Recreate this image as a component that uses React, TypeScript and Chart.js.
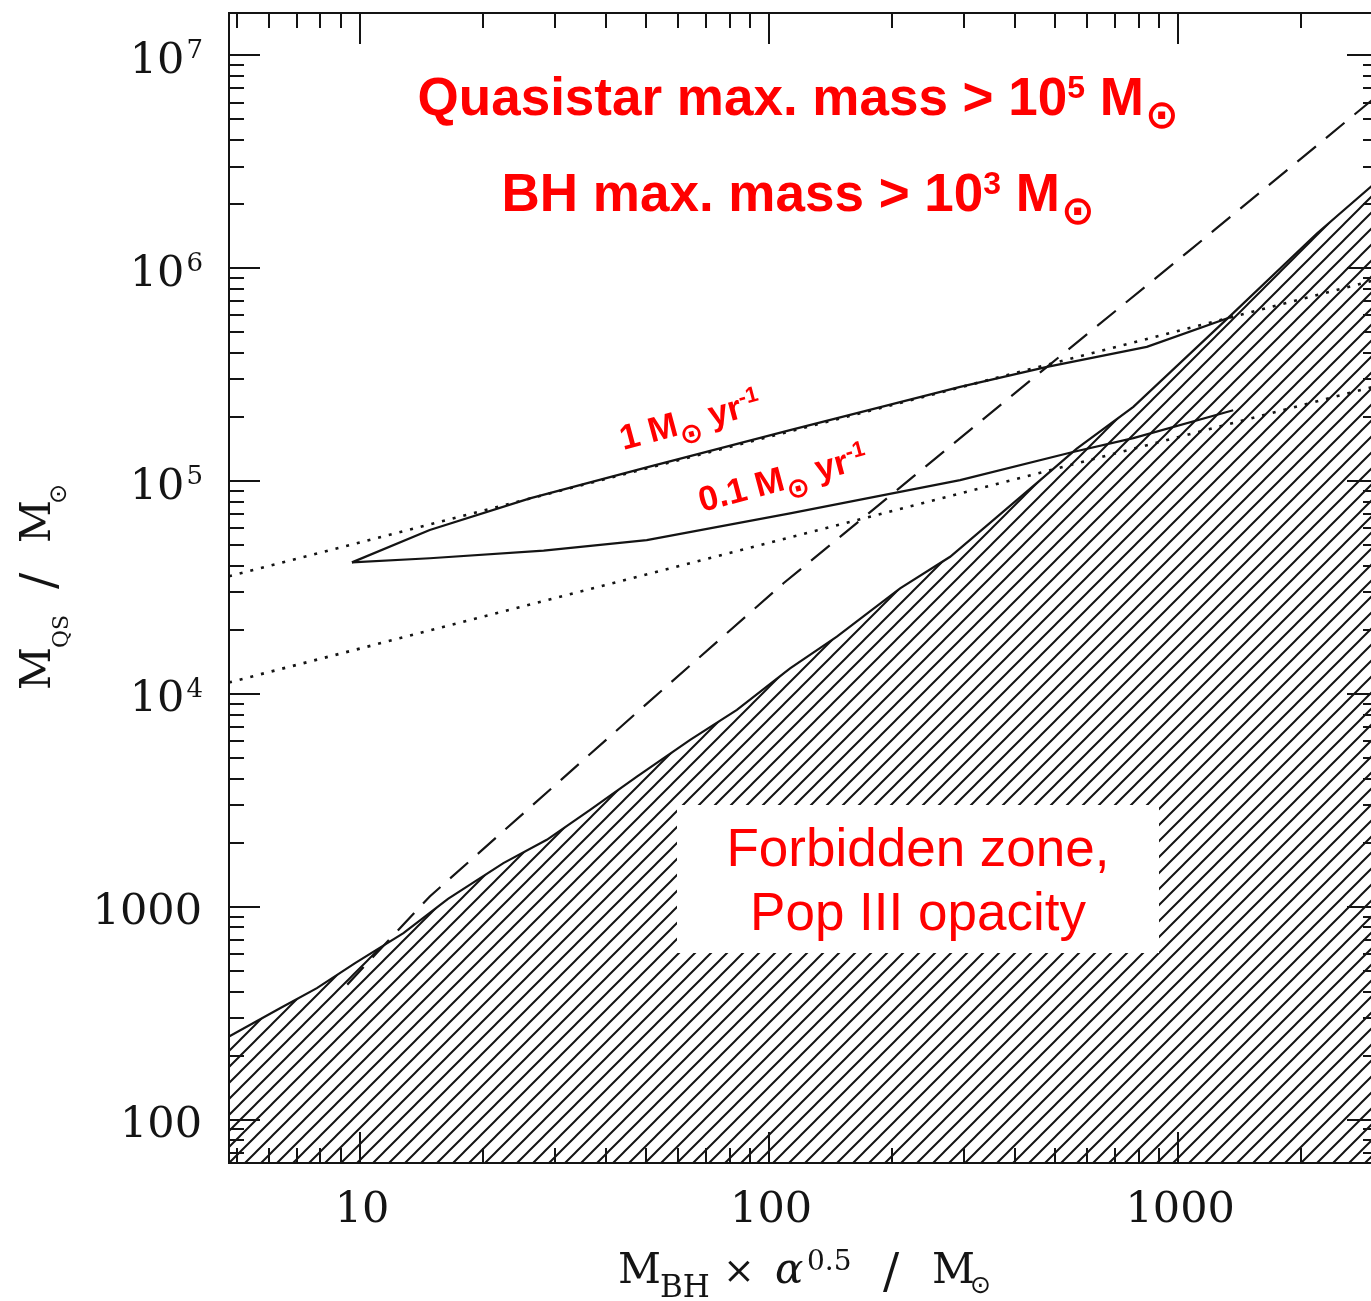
import React, { useEffect, useRef } from "react";
import { Chart, registerables } from "chart.js";

Chart.register(...registerables);

// ---------- data ----------
const xRange = [4.78, 3080];
const yRange = [62.6, 1.58e7];

// boundary of the forbidden (hatched) zone
const forbiddenX = [4.78, 6.37, 7.84, 9.72, 12.76, 16.4, 22.4, 28.6, 36.5, 47.5, 64.1, 83.4, 112.5, 146.4, 209, 277, 460, 565, 777, 1363, 2183, 3080];
const forbiddenY = [246, 334, 415, 544, 752, 1090, 1604, 2064, 2853, 4090, 6080, 8410, 13200, 18600, 31300, 44100, 101000, 142000, 223000, 615000, 1455000, 2580000];

// dashed curve
const dashedX = [9.3, 14.8, 25.1, 49.3, 108.4, 225, 478, 1069, 3080];
const dashedY = [431, 1118, 2754, 8720, 33100, 104800, 344000, 1215000, 6500000];

// dotted power laws
const dotHighX = [4.78, 3080];
const dotHighY = [35700, 886000];
const dotLowX = [4.78, 3080];
const dotLowY = [11330, 281000];

// 1 Msun/yr track
const rate1X = [9.55, 14.8, 26.0, 50.2, 112.5, 293, 478, 838, 1363];
const rate1Y = [41500, 58900, 82900, 116000, 173500, 277000, 344000, 427000, 595000];

// 0.1 Msun/yr track
const rate01X = [9.55, 14.8, 28.1, 50.2, 112.5, 293, 553, 777, 1363];
const rate01Y = [41500, 43400, 47100, 52800, 70500, 101000, 137000, 159000, 215000];

// ticks
const xMajorTicks = [10, 100, 1000];
const xTickLabels = ["10", "100", "1000"];
const yMajorTicks = [100, 1000, 1e4, 1e5, 1e6, 1e7];
const yTickBase = ["100", "1000", "10", "10", "10", "10"];
const yTickExp = ["", "", "4", "5", "6", "7"];
const minorSteps = [2, 3, 4, 5, 6, 7, 8, 9];

// texts
const headline1 = ["Quasistar max. mass > 10", "5", " M", "\u2299"];
const headline2 = ["BH max. mass > 10", "3", " M", "\u2299"];
const rateLabel1 = ["1 M", "\u2299", " yr", "-1"];
const rateLabel01 = ["0.1 M", "\u2299", " yr", "-1"];
const rateLabel1At = { x: 44.0, y: 139800 };
const rateLabel01At = { x: 68.5, y: 71500 };
const boxLines = ["Forbidden zone,", "Pop III opacity"];
const xTitle = ["M", "BH", "\u00d7", "\u03b1", "0.5", "/", "M", "\u2299"];
const yTitle = ["M", "QS", "/", "M", "\u2299"];

const zip = (xs: number[], ys: number[]) => xs.map((x, i) => ({ x, y: ys[i] }));

const SANS = "'Liberation Sans', Arial, sans-serif";
const SERIF = "'DejaVu Serif', serif";
const SYM = "'DejaVu Sans', sans-serif";
const RED = "#ff0000";
const INK = "#141414";

type Run = { t: string; font: string; dy?: number; dx?: number };

function runsWidth(ctx: CanvasRenderingContext2D, runs: Run[]) {
  let w = 0;
  for (const r of runs) {
    ctx.font = r.font;
    w += ctx.measureText(r.t).width + (r.dx || 0);
  }
  return w;
}

function drawRuns(ctx: CanvasRenderingContext2D, runs: Run[], x: number, y: number) {
  let cx = x;
  ctx.textAlign = "left";
  ctx.textBaseline = "alphabetic";
  for (const r of runs) {
    ctx.font = r.font;
    cx += r.dx || 0;
    ctx.fillText(r.t, cx, y + (r.dy || 0));
    cx += ctx.measureText(r.t).width;
  }
}

const overlayPlugin = {
  id: "overlay",
  afterDraw(chart: any) {
    const ctx: CanvasRenderingContext2D = chart.ctx;
    const xs = chart.scales.x;
    const ys = chart.scales.y;
    const { left, right, top, bottom } = chart.chartArea;
    ctx.save();

    // white box with label
    ctx.fillStyle = "#ffffff";
    ctx.fillRect(677, 805, 482, 148);
    ctx.fillStyle = RED;
    ctx.font = `53px ${SANS}`;
    ctx.textAlign = "center";
    ctx.textBaseline = "alphabetic";
    ctx.fillText(boxLines[0], 918, 866);
    ctx.fillText(boxLines[1], 918, 930);

    // headlines
    const head = (parts: string[], baseline: number) => {
      const runs: Run[] = [
        { t: parts[0], font: `bold 53px ${SANS}` },
        { t: parts[1], font: `bold 32px ${SANS}`, dy: -17 },
        { t: parts[2], font: `bold 53px ${SANS}` },
        { t: parts[3], font: `bold 40px ${SYM}`, dy: 13, dx: 1 },
      ];
      const w = runsWidth(ctx, runs);
      ctx.fillStyle = RED;
      drawRuns(ctx, runs, 798 - w / 2, baseline);
    };
    head(headline1, 115);
    head(headline2, 211);

    // rotated rate labels
    const rate = (parts: string[], at: { x: number; y: number }, angle: number) => {
      const px = xs.getPixelForValue(at.x);
      const py = ys.getPixelForValue(at.y);
      ctx.save();
      ctx.translate(px, py);
      ctx.rotate((angle * Math.PI) / 180);
      ctx.fillStyle = RED;
      drawRuns(ctx, [
        { t: parts[0], font: `bold 35px ${SANS}` },
        { t: parts[1], font: `bold 28px ${SYM}`, dy: 11 },
        { t: parts[2], font: `bold 35px ${SANS}` },
        { t: parts[3], font: `bold 22px ${SANS}`, dy: -13 },
      ], 0, 0);
      ctx.restore();
    };
    rate(rateLabel1, rateLabel1At, -15);
    rate(rateLabel01, rateLabel01At, -15);

    // frame
    ctx.strokeStyle = INK;
    ctx.lineWidth = 2;
    ctx.strokeRect(left, top, right - left, bottom - top);

    // ticks
    ctx.beginPath();
    const xMin = xRange[0], xMax = xRange[1], yMin = yRange[0], yMax = yRange[1];
    const xDecades = [1, ...xMajorTicks];
    for (const d of xDecades) {
      for (const m of [1, ...minorSteps]) {
        const v = d * m;
        if (m === 1 && d === 1) continue;
        if (v < xMin || v > xMax) continue;
        const len = m === 1 ? 31 : 15;
        const p = Math.round(xs.getPixelForValue(v));
        ctx.moveTo(p, bottom);
        ctx.lineTo(p, bottom - len);
        ctx.moveTo(p, top);
        ctx.lineTo(p, top + len);
      }
    }
    const yDecades = [10, ...yMajorTicks];
    for (const d of yDecades) {
      for (const m of [1, ...minorSteps]) {
        const v = d * m;
        if (m === 1 && d === 10) continue;
        if (v < yMin || v > yMax) continue;
        const len = m === 1 ? 31 : 15;
        const p = Math.round(ys.getPixelForValue(v));
        ctx.moveTo(left, p);
        ctx.lineTo(left + len, p);
        ctx.moveTo(right, p);
        ctx.lineTo(right - len, p);
      }
    }
    ctx.stroke();

    // tick labels
    ctx.fillStyle = INK;
    ctx.textBaseline = "alphabetic";
    xMajorTicks.forEach((v, i) => {
      const p = xs.getPixelForValue(v);
      ctx.font = `43px ${SERIF}`;
      ctx.textAlign = "center";
      ctx.fillText(xTickLabels[i], p + 2, 1222);
    });
    yMajorTicks.forEach((v, i) => {
      const p = ys.getPixelForValue(v);
      const base = yTickBase[i];
      const exp = yTickExp[i];
      ctx.textAlign = "right";
      if (exp) {
        ctx.font = `26px ${SERIF}`;
        const ew = ctx.measureText(exp).width;
        ctx.fillText(exp, 203, p + 3);
        ctx.font = `43px ${SERIF}`;
        ctx.fillText(base, 203 - ew - 2, p + 17.5);
      } else {
        ctx.font = `43px ${SERIF}`;
        ctx.fillText(base, 202, p + 17.5);
      }
    });

    // x title
    ctx.textAlign = "left";
    const xb = 1283;
    ctx.font = `42px ${SERIF}`;
    ctx.fillText(xTitle[0], 618, xb);
    ctx.font = `31px ${SERIF}`;
    ctx.fillText(xTitle[1], 660, xb + 14);
    ctx.font = `38px ${SERIF}`;
    ctx.textAlign = "center";
    ctx.fillText(xTitle[2], 739, xb);
    ctx.textAlign = "left";
    ctx.font = `italic 42px ${SERIF}`;
    ctx.fillText(xTitle[3], 775, xb);
    ctx.font = `28px ${SERIF}`;
    ctx.fillText(xTitle[4], 807, xb - 13);
    ctx.font = `48px ${SERIF}`;
    ctx.textAlign = "center";
    ctx.fillText(xTitle[5], 891, xb + 5);
    ctx.textAlign = "left";
    ctx.font = `42px ${SERIF}`;
    ctx.fillText(xTitle[6], 932, xb);
    ctx.font = `25px ${SYM}`;
    ctx.fillText(xTitle[7], 970, xb + 10);

    // y title (rotated)
    ctx.save();
    ctx.translate(50, 690);
    ctx.rotate(-Math.PI / 2);
    ctx.textAlign = "left";
    ctx.font = `42px ${SERIF}`;
    ctx.fillText(yTitle[0], 0, 0);
    ctx.font = `22px ${SERIF}`;
    ctx.fillText(yTitle[1], 42, 18);
    ctx.font = `48px ${SERIF}`;
    ctx.textAlign = "center";
    ctx.fillText(yTitle[2], 109, 5);
    ctx.textAlign = "left";
    ctx.font = `42px ${SERIF}`;
    ctx.fillText(yTitle[3], 147, 0);
    ctx.font = `24px ${SYM}`;
    ctx.fillText(yTitle[4], 186, 16);
    ctx.restore();

    ctx.restore();
  },
};

function makeHatch(): CanvasPattern | string {
  const c = document.createElement("canvas");
  c.width = 16;
  c.height = 16;
  const g = c.getContext("2d");
  if (!g) return "#888";
  g.strokeStyle = INK;
  g.lineWidth = 2;
  g.beginPath();
  g.moveTo(-2, 18);
  g.lineTo(18, -2);
  g.moveTo(-2, 2);
  g.lineTo(2, -2);
  g.moveTo(14, 18);
  g.lineTo(18, 14);
  g.stroke();
  const p = g.createPattern(c, "repeat");
  return p || "#888";
}

export default function App() {
  const ref = useRef<HTMLCanvasElement | null>(null);

  useEffect(() => {
    const canvas = ref.current;
    if (!canvas) return;
    const hatch = makeHatch();
    const common = { pointRadius: 0, pointHoverRadius: 0, tension: 0, fill: false, borderColor: INK };
    const chart = new Chart(canvas, {
      type: "line",
      data: {
        datasets: [
          { ...common, data: zip(rate1X, rate1Y), borderWidth: 2.2, borderJoinStyle: "round" },
          { ...common, data: zip(rate01X, rate01Y), borderWidth: 2.2, borderJoinStyle: "round" },
          { ...common, data: zip(dashedX, dashedY), borderWidth: 2.2, borderDash: [24, 13] },
          { ...common, data: zip(dotHighX, dotHighY), borderWidth: 2.6, borderDash: [3, 8] },
          { ...common, data: zip(dotLowX, dotLowY), borderWidth: 2.6, borderDash: [3, 8] },
          {
            ...common,
            data: zip(forbiddenX, forbiddenY),
            borderWidth: 2.2,
            fill: "start",
            backgroundColor: hatch as any,
          },
        ],
      } as any,
      options: {
        animation: false,
        responsive: false,
        devicePixelRatio: 1,
        events: [],
        layout: { padding: { left: 229, top: 13, right: 2, bottom: 138 } },
        plugins: { legend: { display: false }, tooltip: { enabled: false } },
        scales: {
          x: { type: "logarithmic", min: xRange[0], max: xRange[1], display: false },
          y: { type: "logarithmic", min: yRange[0], max: yRange[1], display: false },
        },
      } as any,
      plugins: [overlayPlugin],
    });
    return () => chart.destroy();
  }, []);

  return (
    <div
      style={{
        position: "absolute",
        left: 0,
        top: 0,
        width: 1371,
        height: 1301,
        overflow: "hidden",
        background: "#ffffff",
      }}
    >
      <canvas ref={ref} width={1380} height={1301} style={{ display: "block" }} />
    </div>
  );
}
